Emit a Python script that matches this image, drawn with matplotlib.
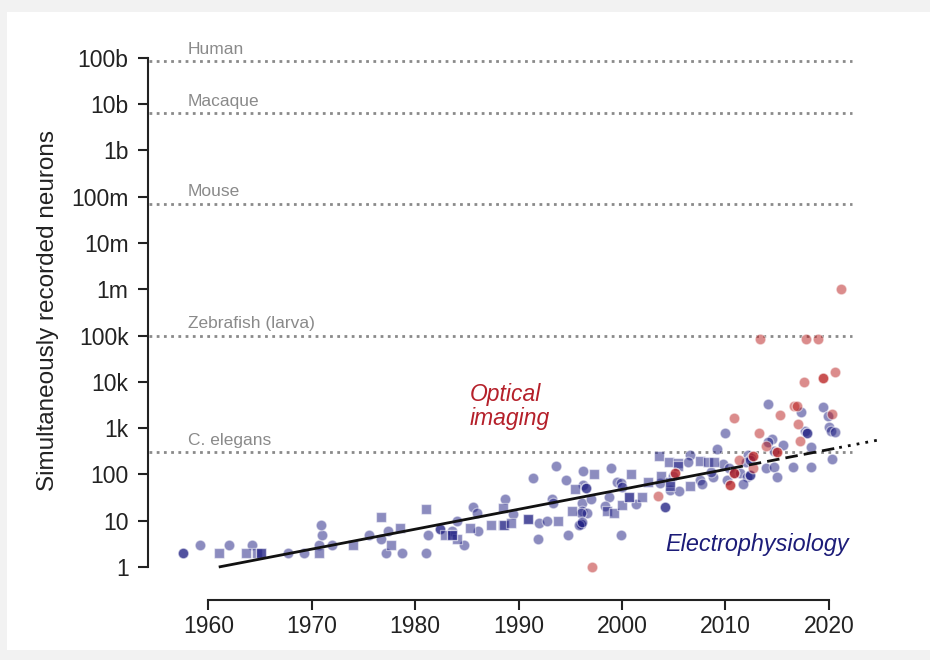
import numpy as np
import matplotlib
matplotlib.use('Agg')
import matplotlib.pyplot as plt
from matplotlib.patches import Rectangle

plt.rcParams['font.family'] = ['Liberation Sans', 'DejaVu Sans']

# ---------------- data ----------------
ephys_year = [1957.5, 1957.5, 1959.2, 1961.0, 1962.0, 1963.6, 1964.2, 1964.7, 1965.1, 1965.1,
              1967.7, 1969.2, 1970.7, 1970.7, 1971.0, 1970.9, 1972.0, 1974.0, 1975.5, 1976.7,
              1976.7, 1977.4, 1977.7, 1977.2, 1978.5, 1978.7, 1981.0, 1981.2, 1981.0, 1982.4,
              1982.4, 1982.9, 1983.6, 1984.0, 1984.0, 1983.6, 1983.6, 1984.7, 1985.3, 1985.6,
              1986.0, 1986.1, 1987.3, 1988.5, 1988.7, 1988.5, 1988.6, 1989.3, 1989.5, 1990.9,
              1990.9, 1992.0, 1991.9, 1991.4, 1992.7, 1993.2, 1993.3, 1993.8, 1993.6, 1994.6,
              1994.8, 1995.2, 1995.5, 1996.2, 1996.2, 1996.5, 1996.5, 1996.1, 1996.1, 1996.6,
              1996.0, 1996.0, 1995.8, 1996.0, 1996.1, 1997.0, 1997.3, 1998.9, 1999.5, 1999.9,
              2000.0, 2000.9, 1998.7, 1998.4, 1998.5, 1999.2, 2000.0, 2000.7, 2000.7, 2001.4,
              2001.9, 1999.9, 2002.5, 2003.6, 2004.5, 2003.8, 2003.7, 2004.2, 2004.2, 2004.6,
              2004.6, 2004.6, 2005.4, 2005.4, 2005.5, 2006.6, 2006.4, 2006.6, 2007.5, 2007.5,
              2007.7, 2008.3, 2008.8, 2009.2, 2008.9, 2008.6, 2004.9, 2010.0, 2014.1, 2017.3,
              2019.4, 2019.9, 2020.0, 2020.2, 2020.6, 2017.7, 2017.9, 2017.9, 2014.5, 2014.1,
              2015.6, 2018.3, 2014.7, 2012.2, 2012.5, 2009.8, 2010.3, 2012.0, 2012.4, 2013.9,
              2014.7, 2016.5, 2018.3, 2020.3, 2015.0, 2010.8, 2011.4, 2012.1, 2012.4, 2012.4,
              2010.2, 2011.7]
ephys_neurons = [2, 2, 3, 2, 3, 2, 3, 2, 2, 2,
                 2, 2, 2, 3, 5, 8, 3, 3, 5, 4,
                 12, 6, 3, 2, 7, 2, 18, 5, 2, 6.5,
                 6.5, 5, 6, 4, 10, 5, 5, 3, 7, 19.5,
                 14.5, 6, 8, 19, 29, 8, 8, 9, 14, 11,
                 11, 9, 4, 83, 10, 30, 24, 10, 152, 76,
                 5, 16, 48, 118, 59, 52, 52, 24, 16, 15,
                 8.5, 8.5, 8, 14.5, 9.5, 30, 100, 137, 70, 64,
                 54, 100, 33, 21, 16, 15, 22, 32, 32, 23,
                 32, 5, 67, 250, 190, 92, 66, 19.5, 19.5, 70,
                 56, 46, 173, 150, 44, 262, 190, 56, 76, 197,
                 62, 190, 86, 350, 190, 115, 92, 770, 3300, 2250,
                 2800, 1800, 1060, 880, 810, 880, 780, 780, 570, 510,
                 430, 400, 325, 262, 223, 168, 135, 190, 205, 140,
                 142, 145, 145, 220, 90, 105, 108, 86, 97, 97,
                 76, 62]
ephys_marker = ['o', 'o', 'o', 's', 'o', 's', 'o', 's', 's', 's',
                'o', 'o', 's', 'o', 'o', 'o', 'o', 's', 'o', 'o',
                's', 'o', 's', 'o', 's', 'o', 's', 'o', 'o', 'o',
                'o', 's', 'o', 's', 'o', 's', 's', 'o', 's', 'o',
                'o', 'o', 's', 's', 'o', 's', 's', 's', 'o', 's',
                's', 'o', 'o', 'o', 'o', 'o', 'o', 's', 'o', 'o',
                'o', 's', 's', 'o', 'o', 'o', 'o', 'o', 'o', 'o',
                'o', 'o', 'o', 'o', 'o', 'o', 's', 'o', 'o', 'o',
                'o', 's', 'o', 'o', 's', 's', 's', 's', 's', 'o',
                's', 'o', 's', 's', 's', 's', 'o', 'o', 'o', 's',
                's', 'o', 's', 's', 'o', 'o', 'o', 's', 'o', 's',
                'o', 's', 'o', 'o', 's', 'o', 'o', 'o', 'o', 'o',
                'o', 'o', 'o', 'o', 'o', 'o', 'o', 'o', 'o', 'o',
                'o', 'o', 'o', 'o', 'o', 'o', 'o', 'o', 'o', 'o',
                'o', 'o', 'o', 'o', 'o', 'o', 'o', 'o', 'o', 'o',
                'o', 'o']

imaging_year = [1997.1, 2003.5, 2005.1, 2005.1, 2010.8, 2015.3, 2016.6, 2016.9, 2020.3, 2017.0,
                2013.2, 2017.2, 2013.9, 2015.0, 2015.0, 2012.7, 2012.7, 2011.3, 2012.7, 2010.8,
                2010.8, 2010.4, 2010.4, 2021.2, 2013.3, 2017.8, 2019.0, 2017.6, 2019.4, 2019.4,
                2020.6]
imaging_neurons = [1, 35, 106, 106, 1620, 1900, 3000, 3000, 2050, 1200,
                   770, 530, 420, 310, 310, 250, 250, 205, 135, 105,
                   105, 59, 59, 1.0e6, 83000, 83000, 83000, 10000, 11800, 11800,
                   16500]

organisms = ['Human', 'Macaque', 'Mouse', 'Zebrafish (larva)', 'C. elegans']
organism_neurons = [8.6e10, 6.4e9, 7.1e7, 1.0e5, 302]

ytick_values = [1, 1e1, 1e2, 1e3, 1e4, 1e5, 1e6, 1e7, 1e8, 1e9, 1e10, 1e11]
ytick_labels = ['1', '10', '100', '1k', '10k', '100k', '1m', '10m', '100m', '1b', '10b', '100b']
xtick_values = [1960, 1970, 1980, 1990, 2000, 2010, 2020]

fit_start_year = 1961.0
fit_doubling_years = 7.0
fit_solid_end = 2010.5
fit_dashed_end = 2021.0
fit_dotted_end = 2025.0

# ---------------- figure ----------------
W, H = 930, 660
fig = plt.figure(figsize=(W / 100, H / 100), dpi=100)
fig.patch.set_facecolor('#f2f2f2')
fig.patches.append(Rectangle((7 / W, 10 / H), 1 - 7 / W, 1 - 22 / H,
                             transform=fig.transFigure, facecolor='white',
                             edgecolor='none', zorder=-5))

ax = fig.add_axes([156.7 / W, 1 - 577.3 / H, 729.0 / W, 533.5 / H])
ax.set_zorder(2)
ax.set_facecolor('none')
ax.set_yscale('log')
ax.set_xlim(1955, 2025.5)
ax.set_ylim(10 ** -0.222, 10 ** 11.301)

gray = '#8a8a8a'
for name, val in zip(organisms, organism_neurons):
    ax.plot([1954.3, 2022.2], [val, val], linestyle=(0, (1, 1.6)), color=gray,
            lw=2.0, clip_on=False, zorder=1)
    ax.annotate(name, (1958.0, val), xytext=(0, 3), textcoords='offset points',
                ha='left', va='bottom', color=gray, fontsize=12.5)

navy = (0.10, 0.10, 0.50)
red = (0.72, 0.10, 0.10)
ey = np.array(ephys_year)
en = np.array(ephys_neurons)
em = np.array(ephys_marker)
for mk, size in (('o', 58), ('s', 46)):
    sel = em == mk
    ax.scatter(ey[sel], en[sel], s=size, marker=mk, color=navy, alpha=0.5,
               edgecolors='white', linewidths=0.9, zorder=3)
ax.scatter(imaging_year, imaging_neurons, s=58, marker='o', color=red, alpha=0.5,
           edgecolors='white', linewidths=0.9, zorder=3)

def fit(yrs):
    yrs = np.asarray(yrs)
    return 2.0 ** ((yrs - fit_start_year) / fit_doubling_years)

x1 = np.linspace(fit_start_year, fit_solid_end, 50)
x2 = np.linspace(fit_solid_end, fit_dashed_end, 20)
x3 = np.linspace(fit_dashed_end, fit_dotted_end, 20)
ax.plot(x1, fit(x1), color='#111111', lw=2.0, zorder=4, solid_capstyle='butt')
ax.plot(x2, fit(x2), color='#111111', lw=2.0, linestyle=(0, (4.5, 2.2)), zorder=4)
ax.plot(x3, fit(x3), color='#111111', lw=2.0, linestyle=(0, (1, 2.2)), zorder=4,
        clip_on=False)

ax.text(1985.3, 2900, 'Optical\nimaging', color='#b5202a', fontsize=16.5, style='italic',
        ha='left', va='center', linespacing=1.05)
ax.text(2004.2, 3.0, 'Electrophysiology', color='#1c1c78', fontsize=16.8, style='italic',
        ha='left', va='center')

# axes styling
for s in ('top', 'right'):
    ax.spines[s].set_visible(False)
ax.spines['left'].set_position(('outward', 6.3))
ax.spines['bottom'].set_position(('outward', 16.5))
ax.spines['left'].set_bounds(1, 1e11)
ax.spines['bottom'].set_bounds(1960, 2020)
for s in ('left', 'bottom'):
    ax.spines[s].set_linewidth(1.5)
    ax.spines[s].set_color('#222222')

ax.set_yticks(ytick_values)
ax.set_yticklabels(ytick_labels)
ax.yaxis.set_minor_locator(matplotlib.ticker.NullLocator())
ax.set_xticks(xtick_values)
ax.set_xticklabels([str(v) for v in xtick_values])
ax.tick_params(axis='both', which='major', length=7, width=1.5, color='#222222',
               labelsize=16.5, labelcolor='#222222')
ax.tick_params(axis='y', pad=7)
ax.tick_params(axis='x', pad=4)
ax.set_ylabel('Simultaneously recorded neurons', fontsize=17.5, color='#222222', labelpad=9)

fig.savefig('out.png', dpi=100, facecolor=fig.get_facecolor())
